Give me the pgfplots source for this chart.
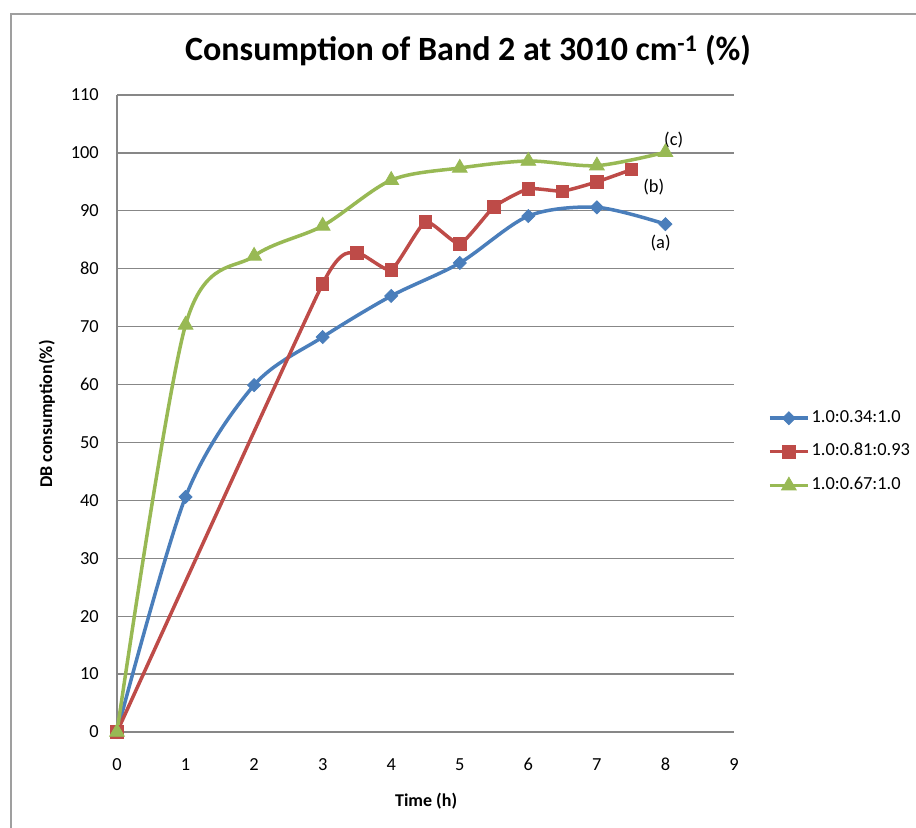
\documentclass[border=0pt]{standalone}
\usepackage{pgfplots}
\pgfplotsset{compat=1.18}
\usepackage{fontspec}
\setmainfont{Carlito}
\definecolor{xblue}{HTML}{4A7EBB}
\definecolor{xred}{HTML}{BE4B48}
\definecolor{xgreen}{HTML}{98B954}
\definecolor{xgrid}{HTML}{878787}
\begin{document}
\begin{tikzpicture}
\useasboundingbox (0,0) rectangle (916bp,828bp);
\fill[white] (0,0) rectangle (916bp,828bp);
\draw[color=xgrid!80, line width=1.2bp] (11bp,0) -- (11bp,814bp) -- (916bp,814bp);
\begin{axis}[
  at={(117bp,96bp)}, anchor=south west,
  scale only axis, width=617bp, height=637bp,
  xmin=0, xmax=9, ymin=0, ymax=110,
  xtick={0,1,...,9}, ytick={0,10,...,110},
  axis x line*=bottom, axis y line*=left,
  axis line style={xgrid, line width=1.5bp},
  ymajorgrids, grid style={xgrid, line width=1.3bp},
  major tick length=0pt,
  clip=false,
  tick label style={font=\fontsize{18.4bp}{22bp}\selectfont, inner sep=0pt},
  /pgf/number format/assume math mode=true,
  xticklabel style={yshift=-26bp},
  yticklabel style={xshift=-18bp},
  title={Consumption of Band 2 at 3010 cm\textsuperscript{-1} (\%)},
  title style={at={(axis description cs:0.569,1.061)}, anchor=center, inner sep=0pt,
    font=\bfseries\fontsize{34bp}{40bp}\selectfont},
  xlabel={Time (h)},
  xlabel style={at={(axis description cs:0.501,-0.108)}, anchor=center, inner sep=0pt,
    font=\bfseries\fontsize{18bp}{21bp}\selectfont},
  ylabel={DB consumption(\%)},
  ylabel style={at={(axis description cs:-0.1135,0.499)}, anchor=center, inner sep=0pt,
    font=\bfseries\fontsize{18bp}{21bp}\selectfont},
  legend style={at={(axis description cs:1.055,0.4396)}, anchor=west, draw=none, fill=none,
    inner sep=0pt, row sep=17.5bp, column sep=2bp,
    nodes={inner sep=0pt, text height=12bp, text depth=4bp},
    font=\fontsize{18.4bp}{22bp}\selectfont},
  legend cell align=left,
  legend image code/.code={\draw[mark repeat=2,mark phase=2] plot coordinates {(0bp,0bp) (19bp,0bp) (38bp,0bp)};},
]
\addplot[xblue, line width=3.5bp, smooth, mark=square*, mark size=4.6bp,
  mark options={rotate=45, solid, fill=xblue, draw=xblue, line width=0.8bp}]
  coordinates {(0,0) (1,40.6) (2,59.9) (3,68.2) (4,75.3) (5,81.0) (6,89.1) (7,90.6) (8,87.7)};
\addlegendentry{1.0:0.34:1.0}
\addplot[xred, line width=3.5bp, smooth, tension=0.3, mark=square*, mark size=6.2bp,
  mark options={solid, fill=xred, draw=xred, line width=0.8bp}]
  coordinates {(0,0) (3,77.4) (3.5,82.7) (4,79.8) (4.5,88.1) (5,84.3) (5.5,90.7) (6,93.8) (6.5,93.4) (7,95.0) (7.5,97.1)};
\addlegendentry{1.0:0.81:0.93}
\addplot[xgreen, line width=3.5bp, smooth, mark=triangle*, mark size=8.5bp,
  mark options={solid, fill=xgreen, draw=xgreen, line width=0.8bp}]
  coordinates {(0,0) (1,70.3) (2,82.2) (3,87.4) (4,95.3) (5,97.4) (6,98.6) (7,97.8) (8,100.1)};
\addlegendentry{1.0:0.67:1.0}
\node[font=\fontsize{18.4bp}{22bp}\selectfont, inner sep=0pt] at (axis cs:7.93,84.4) {(a)};
\node[font=\fontsize{18.4bp}{22bp}\selectfont, inner sep=0pt] at (axis cs:7.83,94.1) {(b)};
\node[font=\fontsize{18.4bp}{22bp}\selectfont, inner sep=0pt] at (axis cs:8.12,102.2) {(c)};
\end{axis}
\end{tikzpicture}
\end{document}
